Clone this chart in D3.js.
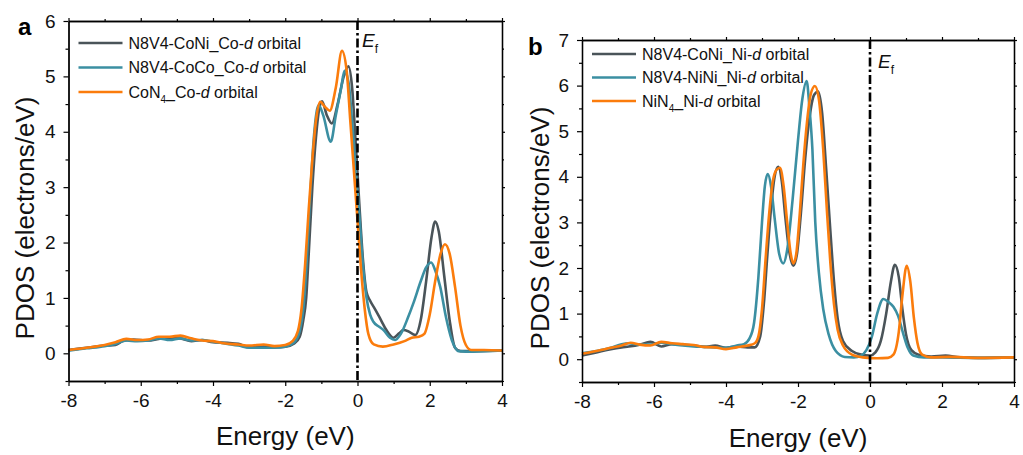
<!DOCTYPE html>
<html>
<head>
<meta charset="utf-8">
<script src="https://cdn.jsdelivr.net/npm/d3@7"></script>
<style>
  body { margin: 0; background: #fff; }
  svg { display: block; font-family: Arial, "Liberation Sans", sans-serif; }
</style>
</head>
<body>
<script>
// tick labels
const energyTicks = [-8, -6, -4, -2, 0, 2, 4];
const pdosTicksA = [0, 1, 2, 3, 4, 5, 6];
const pdosTicksB = [0, 1, 2, 3, 4, 5, 6, 7];

// legend names ("|" marks a subscript)
const namesA = ['N8V4-CoNi_Co-', 'N8V4-CoCo_Co-', 'CoN|4|_Co-'];
const namesB = ['N8V4-CoNi_Ni-', 'N8V4-NiNi_Ni-', 'NiN|4|_Ni-'];
const colors = ['#4a5459', '#3b8fa2', '#fb7c0c'];

// panel a: Co-d PDOS, [energy, pdos]
const coniCoA = [[-8,0.06],[-7.5,0.1],[-7,0.14],[-6.7,0.15],[-6.5,0.22],[-6.2,0.25],[-5.8,0.23],[-5.5,0.26],[-5.2,0.28],[-4.9,0.27],[-4.6,0.22],[-4.3,0.24],[-4,0.2],[-3.6,0.19],[-3.3,0.17],[-3,0.11],[-2.6,0.12],[-2.3,0.11],[-2,0.12],[-1.75,0.18],[-1.6,0.3],[-1.5,0.6],[-1.42,1.0],[-1.35,1.8],[-1.25,3.0],[-1.15,3.9],[-1.05,4.45],[-0.98,4.55],[-0.85,4.3],[-0.71,4.15],[-0.55,4.5],[-0.38,5.0],[-0.25,5.18],[-0.15,4.8],[-0.05,3.8],[0.05,2.7],[0.15,1.7],[0.25,1.1],[0.35,0.95],[0.5,0.78],[0.65,0.6],[0.8,0.42],[1.0,0.28],[1.15,0.36],[1.27,0.42],[1.4,0.4],[1.6,0.33],[1.75,0.6],[1.9,1.3],[2.05,2.1],[2.15,2.38],[2.25,2.2],[2.4,1.4],[2.55,0.6],[2.7,0.1],[2.85,0.04],[3.2,0.04],[4,0.05]];
const cocoCoA = [[-8,0.05],[-7.5,0.09],[-7,0.13],[-6.7,0.17],[-6.4,0.23],[-6.1,0.22],[-5.8,0.23],[-5.5,0.27],[-5.2,0.24],[-4.9,0.27],[-4.6,0.23],[-4.3,0.24],[-4,0.21],[-3.6,0.17],[-3.3,0.14],[-3,0.1],[-2.6,0.1],[-2.3,0.1],[-2,0.12],[-1.75,0.2],[-1.6,0.4],[-1.5,0.8],[-1.42,1.5],[-1.32,2.7],[-1.22,3.8],[-1.12,4.4],[-1.07,4.48],[-0.95,4.3],[-0.74,3.82],[-0.6,4.3],[-0.45,4.8],[-0.36,5.1],[-0.25,4.9],[-0.15,4.2],[-0.05,3.3],[0.05,2.5],[0.15,1.6],[0.25,1.0],[0.35,0.7],[0.44,0.57],[0.6,0.48],[0.72,0.42],[0.9,0.28],[1.04,0.24],[1.2,0.35],[1.4,0.65],[1.55,0.91],[1.75,1.3],[1.9,1.55],[2.04,1.64],[2.15,1.5],[2.29,1.2],[2.45,0.65],[2.61,0.24],[2.8,0.04],[3.2,0.03],[4,0.05]];
const con4CoA = [[-8,0.06],[-7.5,0.1],[-7,0.15],[-6.7,0.2],[-6.4,0.26],[-6.1,0.24],[-5.8,0.25],[-5.5,0.3],[-5.2,0.3],[-4.9,0.32],[-4.6,0.27],[-4.3,0.23],[-4,0.22],[-3.7,0.18],[-3.3,0.16],[-3,0.14],[-2.6,0.16],[-2.3,0.13],[-2.0,0.15],[-1.8,0.22],[-1.65,0.4],[-1.55,0.8],[-1.45,1.6],[-1.35,2.6],[-1.25,3.5],[-1.15,4.2],[-1.03,4.54],[-0.9,4.45],[-0.77,4.38],[-0.6,4.8],[-0.43,5.46],[-0.3,5.1],[-0.2,4.2],[-0.1,3.3],[0,2.4],[0.1,1.5],[0.2,0.8],[0.3,0.35],[0.45,0.16],[0.7,0.12],[1.0,0.16],[1.3,0.22],[1.5,0.28],[1.7,0.3],[1.85,0.35],[2.0,0.7],[2.15,1.3],[2.3,1.8],[2.42,1.97],[2.55,1.8],[2.7,1.2],[2.85,0.5],[3.0,0.15],[3.15,0.06],[3.5,0.06],[4,0.05]];

// panel b: Ni-d PDOS, [energy, pdos]
const coniNiB = [[-8,0.08],[-7.6,0.15],[-7.2,0.22],[-6.9,0.26],[-6.7,0.28],[-6.4,0.32],[-6.1,0.38],[-5.8,0.28],[-5.5,0.33],[-5.2,0.32],[-4.9,0.3],[-4.6,0.27],[-4.3,0.3],[-4,0.25],[-3.7,0.28],[-3.4,0.26],[-3.2,0.26],[-3.05,0.5],[-2.95,1.2],[-2.85,2.3],[-2.75,3.3],[-2.65,4.0],[-2.55,4.22],[-2.45,3.9],[-2.35,3.1],[-2.25,2.4],[-2.13,2.05],[-2.03,2.3],[-1.92,3.2],[-1.8,4.4],[-1.68,5.3],[-1.55,5.8],[-1.44,5.87],[-1.33,5.4],[-1.22,4.2],[-1.1,2.8],[-1.0,1.7],[-0.9,0.9],[-0.75,0.4],[-0.5,0.18],[-0.25,0.1],[0,0.08],[0.15,0.15],[0.3,0.4],[0.45,1.0],[0.58,1.7],[0.69,2.07],[0.8,1.8],[0.9,1.1],[1.0,0.55],[1.15,0.2],[1.35,0.1],[1.7,0.06],[2.1,0.08],[2.5,0.04],[3,0.03],[4,0.04]];
const niniNiB = [[-8,0.13],[-7.6,0.18],[-7.2,0.25],[-6.9,0.33],[-6.7,0.35],[-6.4,0.32],[-6.1,0.32],[-5.8,0.36],[-5.5,0.33],[-5.2,0.3],[-4.9,0.28],[-4.6,0.27],[-4.3,0.26],[-4,0.25],[-3.7,0.3],[-3.5,0.33],[-3.35,0.45],[-3.22,0.8],[-3.1,1.8],[-3.0,3.0],[-2.92,3.8],[-2.84,4.06],[-2.75,3.8],[-2.65,3.1],[-2.52,2.3],[-2.41,2.1],[-2.3,2.4],[-2.15,3.5],[-2.0,4.8],[-1.88,5.7],[-1.76,6.1],[-1.68,5.5],[-1.6,4.6],[-1.52,3.0],[-1.42,1.9],[-1.3,1.1],[-1.15,0.55],[-0.95,0.18],[-0.7,0.05],[-0.45,0.04],[-0.25,0.08],[-0.1,0.2],[0.05,0.49],[0.2,1.0],[0.37,1.32],[0.52,1.25],[0.65,1.15],[0.78,0.95],[0.93,0.54],[1.05,0.25],[1.2,0.08],[1.5,0.04],[2,0.04],[3,0.03],[4,0.04]];
const nin4NiB = [[-8,0.12],[-7.6,0.18],[-7.2,0.25],[-6.9,0.3],[-6.65,0.36],[-6.4,0.32],[-6.1,0.3],[-5.8,0.38],[-5.5,0.35],[-5.2,0.33],[-4.9,0.31],[-4.6,0.27],[-4.3,0.26],[-4,0.22],[-3.7,0.26],[-3.4,0.3],[-3.2,0.35],[-3.1,0.5],[-3.0,1.1],[-2.9,2.2],[-2.8,3.2],[-2.7,3.9],[-2.6,4.15],[-2.5,4.2],[-2.4,3.8],[-2.3,3.0],[-2.2,2.3],[-2.13,2.1],[-2.05,2.3],[-1.95,3.2],[-1.85,4.3],[-1.75,5.2],[-1.65,5.8],[-1.53,5.99],[-1.42,5.7],[-1.3,4.6],[-1.2,3.3],[-1.1,2.1],[-1.0,1.2],[-0.9,0.65],[-0.75,0.3],[-0.5,0.1],[-0.2,0.04],[0.2,0.02],[0.5,0.03],[0.65,0.1],[0.8,0.6],[0.9,1.4],[1.02,2.05],[1.12,1.7],[1.22,0.9],[1.32,0.35],[1.45,0.1],[1.7,0.04],[2.2,0.05],[3,0.03],[4,0.04]];

const svg = d3.select('body').append('svg')
    .attr('width', 1023)
    .attr('height', 455);

function drawPanel(p) {
    const x = d3.scaleLinear().domain([-8, 4]).range([p.left, p.right]);
    const y = d3.scaleLinear().domain(p.yDomain).range([p.bottom, p.top]);
    const g = svg.append('g');

    // curves (drawn first, axes on top)
    const line = d3.line()
        .x(d => x(d[0]))
        .y(d => y(d[1]))
        .curve(d3.curveMonotoneX);
    p.series.forEach((s, i) => {
        g.append('path')
            .datum(s)
            .attr('fill', 'none')
            .attr('stroke', colors[i])
            .attr('stroke-width', 2.6)
            .attr('stroke-linejoin', 'round')
            .attr('d', line);
    });

    // Fermi level
    g.append('line')
        .attr('x1', x(0)).attr('x2', x(0))
        .attr('y1', p.top).attr('y2', p.bottom)
        .attr('stroke', '#000')
        .attr('stroke-width', 2.6)
        .attr('stroke-dasharray', '9,3,2.5,3');

    const minorX = d3.range(-8, 4.01, 1).filter(v => !energyTicks.includes(v));
    const minorY = d3.range(p.yDomain[0], p.yDomain[1] + 0.01, 0.5).filter(v => !p.yTicks.includes(v));

    const styleAxis = sel => {
        sel.selectAll('.domain').attr('stroke', '#000').attr('stroke-width', 1.3);
        sel.selectAll('.tick line').attr('stroke', '#000').attr('stroke-width', 1.2);
        sel.selectAll('text').attr('font-size', 19).attr('fill', '#111')
            .attr('font-family', 'Arial, "Liberation Sans", sans-serif');
    };

    // bottom
    g.append('g').attr('transform', `translate(0,${p.bottom})`)
        .call(d3.axisBottom(x).tickValues(energyTicks).tickSize(5).tickPadding(8).tickSizeOuter(0).tickFormat(d => d))
        .call(styleAxis);
    g.append('g').attr('transform', `translate(0,${p.bottom})`)
        .call(d3.axisBottom(x).tickValues(minorX).tickSize(3).tickFormat('').tickSizeOuter(0))
        .call(styleAxis);
    // top
    g.append('g').attr('transform', `translate(0,${p.top})`)
        .call(d3.axisTop(x).tickValues(energyTicks).tickSize(3).tickFormat('').tickSizeOuter(0))
        .call(styleAxis);
    g.append('g').attr('transform', `translate(0,${p.top})`)
        .call(d3.axisTop(x).tickValues(minorX).tickSize(2).tickFormat('').tickSizeOuter(0))
        .call(styleAxis);
    // left
    g.append('g').attr('transform', `translate(${p.left},0)`)
        .call(d3.axisLeft(y).tickValues(p.yTicks).tickSize(5).tickPadding(8).tickSizeOuter(0).tickFormat(d => d))
        .call(styleAxis);
    g.append('g').attr('transform', `translate(${p.left},0)`)
        .call(d3.axisLeft(y).tickValues(minorY).tickSize(3).tickFormat('').tickSizeOuter(0))
        .call(styleAxis);
    // right
    g.append('g').attr('transform', `translate(${p.right},0)`)
        .call(d3.axisRight(y).tickValues(p.yTicks).tickSize(3).tickFormat('').tickSizeOuter(0))
        .call(styleAxis);
    g.append('g').attr('transform', `translate(${p.right},0)`)
        .call(d3.axisRight(y).tickValues(minorY).tickSize(2).tickFormat('').tickSizeOuter(0))
        .call(styleAxis);

    // axis titles
    g.append('text')
        .attr('x', (p.left + p.right) / 2)
        .attr('y', p.xTitleY)
        .attr('text-anchor', 'middle')
        .attr('font-size', 26)
        .attr('fill', '#111')
        .text('Energy (eV)');
    g.append('text')
        .attr('transform', `translate(${p.yTitleX},${p.yTitleY}) rotate(-90)`)
        .attr('text-anchor', 'middle')
        .attr('font-size', 26)
        .attr('fill', '#111')
        .text('PDOS (electrons/eV)');

    // panel letter
    g.append('text')
        .attr('x', p.letterX).attr('y', p.letterY)
        .attr('font-size', 24)
        .attr('font-weight', 'bold')
        .text(p.letter);

    // E_f label
    const ef = g.append('text')
        .attr('x', p.efX).attr('y', p.efY)
        .attr('font-size', 19)
        .attr('fill', '#111');
    ef.append('tspan').attr('font-style', 'italic').text('E');
    ef.append('tspan').attr('font-size', 12).attr('dy', 6).text('f');

    // legend
    p.names.forEach((name, i) => {
        const ly = p.legendY + i * p.legendStep;
        g.append('line')
            .attr('x1', p.left + 10).attr('x2', p.left + 54)
            .attr('y1', ly).attr('y2', ly)
            .attr('stroke', colors[i])
            .attr('stroke-width', 2.6);
        const t = g.append('text')
            .attr('x', p.left + 60)
            .attr('y', ly + 5.5)
            .attr('font-size', 16)
            .attr('fill', '#111');
        name.split('|').forEach((part, k) => {
            if (k % 2 === 1) {
                t.append('tspan').attr('font-size', 10).attr('dy', 5).text(part);
            } else {
                t.append('tspan').attr('dy', k > 0 ? -5 : 0).text(part);
            }
        });
        t.append('tspan').attr('font-style', 'italic').text('d');
        t.append('tspan').text(' orbital');
    });
}

drawPanel({
    left: 68.5, right: 502, top: 21, bottom: 381,
    yDomain: [-0.5, 6], yTicks: pdosTicksA,
    series: [coniCoA, cocoCoA, con4CoA],
    names: namesA,
    legendY: 43, legendStep: 24.5,
    xTitleY: 445, yTitleX: 34, yTitleY: 218,
    letter: 'a', letterX: 18, letterY: 35,
    efX: 362, efY: 47
});

drawPanel({
    left: 582, right: 1014, top: 40, bottom: 382,
    yDomain: [-0.5, 7], yTicks: pdosTicksB,
    series: [coniNiB, niniNiB, nin4NiB],
    names: namesB,
    legendY: 54, legendStep: 23.5,
    xTitleY: 447, yTitleX: 549, yTitleY: 228,
    letter: 'b', letterX: 528, letterY: 55,
    efX: 878, efY: 68
});
</script>
</body>
</html>
